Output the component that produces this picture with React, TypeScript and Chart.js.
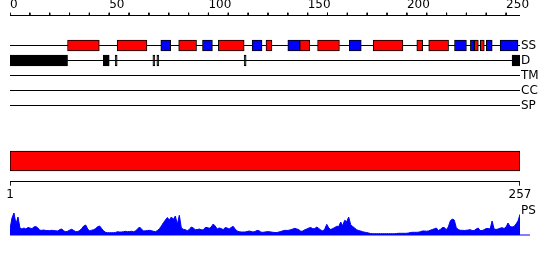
import React, { useEffect, useRef } from "react";
import { Chart, registerables } from "chart.js";

Chart.register(...registerables);
Chart.defaults.font.family = "'DejaVu Sans', sans-serif";
Chart.defaults.font.size = 12;
Chart.defaults.color = "#000";

// ---- data ----
const SEQ_LENGTH = 257;
const rulerLabels = [0, 50, 100, 150, 200, 250];
const rulerTicks = [0, 10, 20, 30, 40, 50, 60, 70, 80, 90, 100, 110, 120, 130, 140, 150, 160, 170, 180, 190, 200, 210, 220, 230, 240, 250];
const trackLabels = ["SS", "D", "TM", "CC", "SP"];

// segment bounds on the 0..257 ruler
const helices: [number, number][] = [
  [29, 45], [54, 69], [85, 94], [105, 118], [129, 132], [146, 151], [155, 166],
  [183, 198], [205, 208], [211, 221], [234, 236], [237, 239],
];
const strands: [number, number][] = [
  [76, 81], [97, 102], [122, 127], [140, 146], [171, 177], [224, 230],
  [232, 234], [240, 243], [247, 256],
];
const disordered: [number, number][] = [
  [0, 29], [47, 50], [53, 54], [72, 73], [74, 75], [118, 119], [253, 257],
];
const domainRange: [number, number] = [1, 257];
const bottomTicks = [1, 257];
const psBaselineEnd = 262;

const psScores = [
  6, 17, 22, 11, 18, 7, 6, 7, 6, 7.5,
  7, 6.3, 8, 8.5, 7, 4.7, 4.7, 5, 4.5, 4.5,
  4.3, 4.7, 4.5, 4.2, 4, 5.5, 6, 4, 3.3, 3.8,
  5, 5.7, 4.5, 3.3, 3.5, 4.5, 6.5, 9, 10, 6,
  4, 4.8, 5.3, 6.5, 8.3, 9, 6.5, 4, 2.7, 2.3,
  2.3, 2.3, 2.3, 2.6, 3.3, 3, 3, 3.3, 3.7, 3.3,
  3.5, 3.7, 3.3, 4, 6, 8, 6, 4, 4.2, 4.5,
  4.7, 4.3, 3.7, 3.3, 4.5, 6.3, 9, 12.3, 15, 17.5,
  15, 18, 15.7, 19, 10.7, 19.7, 7, 5.7, 5.3, 4.3,
  5.5, 8, 7, 5.3, 5.5, 6, 5.3, 5, 7.5, 7.5,
  6.7, 8, 11, 9, 6, 7, 6.5, 5.3, 7.5, 7,
  6, 7.5, 8.7, 6, 4, 3.3, 3, 3, 3, 3.5,
  4, 3.5, 3, 3.5, 4.5, 4.3, 2.8, 2.7, 3, 3.3,
  3.3, 3, 2.7, 2.5, 2.5, 3, 3.5, 4.2, 4.7, 4.5,
  4.8, 5.3, 6, 6.7, 6, 5.3, 3.7, 4, 5.3, 6,
  7, 7.5, 6.2, 6.5, 8, 6.5, 5, 4, 6, 10.7,
  7, 5.5, 6.5, 7.5, 8.7, 8.5, 13, 9.3, 14.7, 13.3,
  18, 10.5, 8.5, 7, 5.3, 4.5, 4, 3.3, 2.8, 2.5,
  2, 1.5, 1.3, 1.3, 1.3, 1.3, 1.3, 1.3, 1.3, 1.3,
  1.3, 1.3, 1.3, 1.3, 1.5, 1.7, 1.7, 1.7, 1.7, 1.7,
  2, 2.5, 2.7, 2.7, 2.7, 2.8, 3.3, 4, 4, 3.8,
  4, 4.8, 5.5, 6.2, 7, 4.5, 5.5, 7.5, 7.5, 5.3,
  8, 14, 16, 15, 7.5, 5.5, 4.7, 4.7, 4.5, 4.7,
  5, 5.3, 4.5, 4.5, 6, 7, 4.5, 4.5, 5.3, 6.5,
  6.5, 6, 14, 6, 5.5, 6, 6.8, 7.3, 6.5, 8,
  12, 8.5, 8, 8.5, 11, 14, 20.7,
];

const RED = "#ff0000";
const BLUE = "#0000ff";
const BLACK = "#000000";

// ---- layout (chart units, not data) ----
// Tracks chart: y axis reversed, 1 unit = 3 px
const A_MAX = 36;
const RULER_TOP = 0;
const RULER_LINE = 1;
const trackRows = [11, 16, 21, 26, 31];
// Domain chart: y axis reversed, 1 unit = 1 px
const B_MAX = 45;
const DOMAIN_ROW = 20;
const AXIS_LINE = 40.5;
const AXIS_TICK_END = 44.5;
// PS chart
const PS_MAX = 24;

function segment(x1: number, y1: number, x2: number, y2: number, color = BLACK) {
  return {
    type: "line" as const,
    data: [
      { x: x1, y: y1 },
      { x: x2, y: y2 },
    ],
    borderColor: color,
    borderWidth: 1,
    pointRadius: 0,
    order: 3,
  };
}

function segBars(segs: [number, number][], row: number, color: string) {
  return {
    type: "bar" as const,
    indexAxis: "y" as const,
    data: segs.map(([a, b]) => ({ x: [a, b], y: row })),
    backgroundColor: color,
    borderColor: BLACK,
    borderWidth: 1,
    borderSkipped: false,
    barThickness: 11,
    grouped: false,
    order: 1,
  };
}

const baseOpts = {
  animation: false,
  responsive: true,
  maintainAspectRatio: false,
  devicePixelRatio: 1,
  events: [],
  plugins: { legend: { display: false }, tooltip: { enabled: false } },
};

const hiddenLines = {
  grid: { display: false, drawTicks: false, tickLength: 0 },
  border: { display: false },
};

const noPad = (s: any) => {
  s.paddingTop = 0;
  s.paddingBottom = 0;
};

export default function App() {
  const aRef = useRef<HTMLCanvasElement>(null);
  const bRef = useRef<HTMLCanvasElement>(null);
  const cRef = useRef<HTMLCanvasElement>(null);

  useEffect(() => {
    const charts: Chart[] = [];

    // Tracks chart (ruler + SS / D / TM / CC / SP)
    charts.push(
      new Chart(aRef.current!, {
        type: "line",
        data: {
          datasets: [
            segment(0, RULER_LINE, SEQ_LENGTH, RULER_LINE),
            ...rulerTicks.map((t) => segment(t, RULER_TOP, t, RULER_LINE)),
            ...trackRows.map((r) => segment(0, r, SEQ_LENGTH, r)),
            segBars(helices, trackRows[0], RED),
            segBars(strands, trackRows[0], BLUE),
            segBars(disordered, trackRows[1], BLACK),
          ] as any,
        },
        options: {
          ...baseOpts,
          layout: { padding: { left: 10, right: 0, top: 0, bottom: 1.5 } },
          scales: {
            x: {
              type: "linear",
              position: "top",
              min: 0,
              max: SEQ_LENGTH,
              offset: false,
              ...hiddenLines,
              ticks: { autoSkip: false, maxRotation: 0, align: "start", padding: 0 },
              afterBuildTicks: (s: any) => {
                s.ticks = rulerLabels.map((v) => ({ value: v }));
              },
              afterFit: (s: any) => {
                s.height = 12.5;
              },
            },
            y: {
              type: "linear",
              position: "right",
              min: 0,
              max: A_MAX,
              reverse: true,
              offset: false,
              ...hiddenLines,
              ticks: {
                padding: 1,
                autoSkip: false,
                callback: (v: any) => trackLabels[trackRows.indexOf(Number(v))] ?? "",
              },
              afterBuildTicks: (s: any) => {
                s.ticks = trackRows.map((v) => ({ value: v }));
              },
              afterFit: (s: any) => {
                s.width = 30;
                noPad(s);
              },
            },
          },
        } as any,
      })
    );

    // Domain bar + 1..257 axis
    charts.push(
      new Chart(bRef.current!, {
        type: "line",
        data: {
          datasets: [
            {
              type: "bar",
              indexAxis: "y",
              data: [{ x: domainRange, y: DOMAIN_ROW }],
              backgroundColor: RED,
              borderColor: BLACK,
              borderWidth: 1,
              borderSkipped: false,
              barThickness: 20,
              grouped: false,
              order: 1,
            },
            segment(bottomTicks[0], AXIS_LINE, bottomTicks[bottomTicks.length - 1], AXIS_LINE),
            ...bottomTicks.map((t) => segment(t, AXIS_LINE, t, AXIS_TICK_END)),
          ] as any,
        },
        options: {
          ...baseOpts,
          layout: { padding: { left: 10, right: 30, top: 0, bottom: 0 } },
          scales: {
            x: {
              type: "linear",
              position: "bottom",
              min: bottomTicks[0],
              max: bottomTicks[bottomTicks.length - 1],
              offset: false,
              ...hiddenLines,
              ticks: { autoSkip: false, maxRotation: 0, padding: 2 },
              afterBuildTicks: (s: any) => {
                s.ticks = bottomTicks.map((v) => ({ value: v }));
              },
              afterFit: (s: any) => {
                s.height = 19;
              },
            },
            y: { type: "linear", display: false, min: 0, max: B_MAX, reverse: true, offset: false },
          },
        } as any,
      })
    );

    // PS profile
    charts.push(
      new Chart(cRef.current!, {
        type: "line",
        data: {
          datasets: [
            {
              data: psScores.map((v, i) => ({ x: i + 1, y: v })),
              fill: "origin",
              backgroundColor: BLUE,
              borderColor: BLUE,
              borderWidth: 1,
              pointRadius: 0,
              tension: 0,
              order: 1,
            },
            {
              data: [
                { x: 1, y: 0 },
                { x: psBaselineEnd, y: 0 },
              ],
              borderColor: BLUE,
              borderWidth: 1,
              pointRadius: 0,
              clip: false,
              order: 2,
            },
          ] as any,
        },
        options: {
          ...baseOpts,
          layout: { padding: { left: 10, right: 0, top: 8, bottom: 5 } },
          scales: {
            x: { type: "linear", display: false, min: 1, max: SEQ_LENGTH, offset: false },
            y: {
              type: "linear",
              position: "right",
              min: 0,
              max: PS_MAX,
              ...hiddenLines,
              ticks: { padding: 1, callback: () => "PS" },
              afterBuildTicks: (s: any) => {
                s.ticks = [{ value: PS_MAX }];
              },
              afterFit: (s: any) => {
                s.width = 30;
                noPad(s);
              },
            },
          },
        } as any,
      })
    );

    return () => charts.forEach((c) => c.destroy());
  }, []);

  const abs = (top: number, h: number): React.CSSProperties => ({
    position: "absolute",
    left: 0,
    top,
    width: 550,
    height: h,
  });

  return (
    <div style={{ position: "fixed", left: 0, top: 0, width: 550, height: 260, background: "#fff", overflow: "hidden" }}>
      <div style={abs(0, 122)}>
        <canvas ref={aRef} />
      </div>
      <div style={abs(141, 64)}>
        <canvas ref={bRef} />
      </div>
      <div style={abs(203, 37)}>
        <canvas ref={cRef} />
      </div>
    </div>
  );
}
